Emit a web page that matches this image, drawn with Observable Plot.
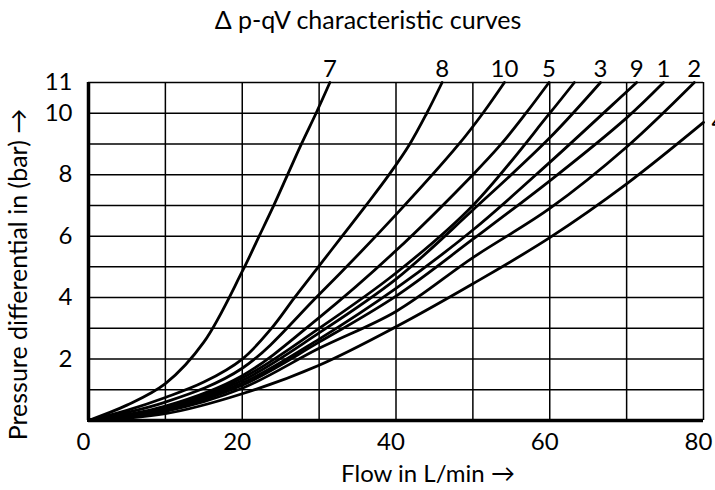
<!DOCTYPE html>
<html>
<head>
<meta charset="utf-8">
<script src="https://cdn.jsdelivr.net/npm/d3@7"></script>
<script src="https://cdn.jsdelivr.net/npm/@observablehq/plot@0.6"></script>
<style>
  body { margin: 0; background: #fff; }
  #chart svg { display: block; }
</style>
</head>
<body>
<div id="chart"></div>
<script>
// Axis ticks and grid
const flowTicks = [0, 20, 40, 60, 80];
const flowGrid = [0, 10, 20, 30, 40, 50, 60, 70, 80];
const dpTicks = [2, 4, 6, 8, 10, 11];
const dpGrid = [0, 1, 2, 3, 4, 5, 6, 7, 8, 9, 10, 11];

// Curve identifiers and their printed labels ("" = no label printed)
const curveIds = ["7", "8", "10", "5", "6", "3", "9", "1", "2", "4"];
const curveLabels = ["7", "8", "10", "5", "", "3", "9", "1", "2", "4"];

// Flow (L/min) and pressure differential (bar)
const q7  = [0, 5, 10, 15, 20, 22.2, 24.1, 25.9, 27.7, 29.6, 31.4];
const dp7 = [0, 0.5, 1.2, 2.55, 4.85, 6, 7, 8, 9, 10, 11];

const q8  = [0, 5, 10, 15, 20, 23.8, 26.8, 29.9, 33.0, 36.1, 39.1, 41.8, 44.0, 46.0];
const dp8 = [0, 0.33, 0.75, 1.25, 2.0, 3, 4, 5, 6, 7, 8, 9, 10, 11];

const q10  = [0, 10, 20, 30, 40, 48.2, 51.3, 54.1];
const dp10 = [0, 0.6, 1.7, 4.1, 6.7, 9, 10, 11];

const q5  = [0, 10, 20, 30, 40, 50, 53.7, 56.9, 59.9];
const dp5 = [0, 0.47, 1.46, 3.35, 5.53, 8.0, 9, 10, 11];

const q6  = [0, 10, 20, 30, 40, 50, 60, 63.2];
const dp6 = [0, 0.43, 1.38, 3.0, 4.8, 7.0, 10.0, 11];

const q3  = [0, 10, 20, 30, 40, 50, 60, 66.6];
const dp3 = [0, 0.4, 1.3, 2.85, 4.6, 6.85, 9.2, 11];

const q9  = [0, 10, 20, 30, 40, 50, 60, 70, 71.3];
const dp9 = [0, 0.37, 1.22, 2.65, 4.3, 6.2, 8.4, 10.7, 11];

const q1  = [0, 10, 20, 30, 40, 50, 60, 70, 74.8];
const dp1 = [0, 0.34, 1.15, 2.55, 4.05, 5.9, 7.8, 9.85, 11];

const q2  = [0, 10, 20, 30, 40, 50, 60, 70, 78.8];
const dp2 = [0, 0.3, 1.05, 2.35, 3.55, 5.3, 6.9, 8.9, 11];

const q4  = [0, 10, 20, 30, 40, 50, 60, 70, 80];
const dp4 = [0, 0.22, 0.87, 1.8, 3.05, 4.45, 5.95, 7.7, 9.7];

const series = [[q7, dp7], [q8, dp8], [q10, dp10], [q5, dp5], [q6, dp6],
                [q3, dp3], [q9, dp9], [q1, dp1], [q2, dp2], [q4, dp4]];

const rows = curveIds.flatMap((id, i) =>
  series[i][0].map((q, j) => ({id, q, dp: series[i][1][j]})));

const ends = curveIds.map((id, i) => {
  const [qs, dps] = series[i];
  return {id, label: curveLabels[i], q: qs[qs.length - 1], dp: dps[dps.length - 1]};
}).filter(d => d.label !== "");

const topLabels = ends.filter(d => d.dp >= 11);
const sideLabels = ends.filter(d => d.dp < 11);

const font = "Lato, Roboto, sans-serif";

const chart = Plot.plot({
  width: 715,
  height: 490,
  marginTop: 82,
  marginBottom: 70,
  marginLeft: 88,
  marginRight: 12,
  style: {fontFamily: font, fontSize: "24px", color: "#000", background: "#fff"},
  x: {domain: [0, 80]},
  y: {domain: [0, 11]},
  marks: [
    Plot.ruleX(flowGrid, {stroke: "#000", strokeWidth: 1.5}),
    Plot.ruleY(dpGrid, {stroke: "#000", strokeWidth: 1.5}),
    Plot.axisX(flowTicks, {tickSize: 0, tickPadding: 12, dx: -5, label: null, fontSize: 24}),
    Plot.axisY(dpTicks, {tickSize: 0, tickPadding: 16, label: null, fontSize: 24}),
    Plot.line(rows, {x: "q", y: "dp", z: "id", curve: "catmull-rom", stroke: "#000", strokeWidth: 2.8}),
    Plot.ruleX([0], {stroke: "#000", strokeWidth: 3.5}),
    Plot.ruleY([0], {stroke: "#000", strokeWidth: 3.5}),
    Plot.text(topLabels, {x: "q", y: "dp", text: "label", dy: -13, fontSize: 24}),
    Plot.text(sideLabels, {x: "q", y: "dp", text: "label", dx: 8, textAnchor: "start", fontSize: 24}),
    Plot.text(["Δ p-qV characteristic curves"], {frameAnchor: "top", textAnchor: "middle", lineAnchor: "middle", dx: -28, dy: -62, fontSize: 25}),
    Plot.text(["Flow in L/min →"], {frameAnchor: "bottom", textAnchor: "middle", lineAnchor: "middle", dx: 32, dy: 54, fontSize: 24}),
    Plot.text(["Pressure differential in (bar) →"], {frameAnchor: "left", textAnchor: "middle", lineAnchor: "middle", rotate: -90, dx: -70, dy: 23, fontSize: 25})
  ]
});
document.getElementById("chart").appendChild(chart);
</script>
</body>
</html>
